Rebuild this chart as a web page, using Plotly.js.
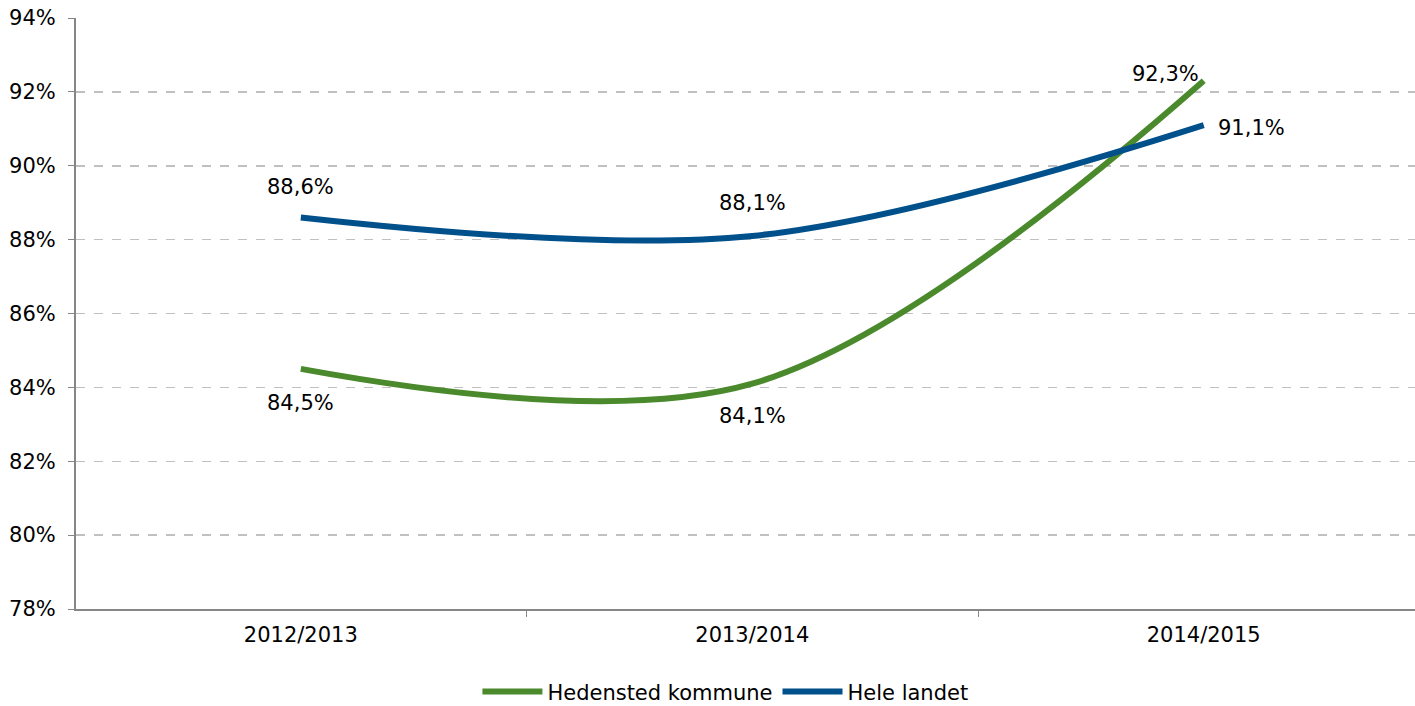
<!DOCTYPE html>
<html><head><meta charset="utf-8">
<script src="https://cdn.plot.ly/plotly-3.0.1.min.js"></script>
<style>html,body{margin:0;padding:0;background:#fff}#c{width:1415px;height:706px}</style>
</head><body><div id="c"></div>
<script>
const categories = ['2012/2013', '2013/2014', '2014/2015'];
const hedensted = [84.5, 84.1, 92.3];
const heleLandet = [88.6, 88.1, 91.1];
const hedenstedLabels = ['84,5%', '84,1%', '92,3%'];
const heleLandetLabels = ['88,6%', '88,1%', '91,1%'];
const yTicks = [78, 80, 82, 84, 86, 88, 90, 92, 94];
const yTickLabels = ['78%', '80%', '82%', '84%', '86%', '88%', '90%', '92%', '94%'];

const font = {family: 'DejaVu Sans, Verdana, sans-serif', size: 21, color: '#000'};
const green = '#4a8a2c', blue = '#00508c';

const traces = [
  {x: categories, y: hedensted, name: 'Hedensted kommune', mode: 'lines',
   line: {color: green, width: 6, shape: 'spline', smoothing: 1}},
  {x: categories, y: heleLandet, name: 'Hele landet', mode: 'lines',
   line: {color: blue, width: 6, shape: 'spline', smoothing: 1}}
];

const annOffsets = {
  h: [[0, -34], [0, -32], [-38, 7]],
  b: [[0, 30], [0, 33], [48, -3]]
};
const annotations = [];
categories.forEach((c, i) => {
  annotations.push({x: c, y: hedensted[i], text: hedenstedLabels[i], showarrow: false,
    xshift: annOffsets.h[i][0], yshift: annOffsets.h[i][1], font: font});
  annotations.push({x: c, y: heleLandet[i], text: heleLandetLabels[i], showarrow: false,
    xshift: annOffsets.b[i][0], yshift: annOffsets.b[i][1], font: font});
});

const layout = {
  width: 1415, height: 706,
  margin: {l: 76, r: 0, t: 18, b: 97},
  paper_bgcolor: '#fff', plot_bgcolor: '#fff',
  font: font,
  showlegend: true,
  legend: {orientation: 'h', x: 0.485, xanchor: 'center', yref: 'container', y: 0.02, yanchor: 'middle',
    font: font, itemwidth: 60},
  xaxis: {type: 'category', range: [-0.498, 2.468], showgrid: false, showline: true, automargin: false,
    linecolor: '#868686', linewidth: 2, ticks: 'outside', tickson: 'boundaries', ticklen: 6,
    tickcolor: '#868686', tickwidth: 1, tickfont: font, zeroline: false, ticklabelstandoff: 6},
  yaxis: {range: [78, 94], tickmode: 'array', tickvals: yTicks, ticktext: yTickLabels, showgrid: true,
    automargin: false,
    gridcolor: '#c0c0c0', griddash: 'dash', gridwidth: 1.5, showline: true, linecolor: '#868686',
    linewidth: 2, ticks: 'outside', ticklen: 6, tickcolor: '#868686', tickfont: font, zeroline: false,
    ticklabelstandoff: 8},
  annotations: annotations
};

Plotly.newPlot('c', traces, layout, {displayModeBar: false, staticPlot: true});
</script></body></html>
